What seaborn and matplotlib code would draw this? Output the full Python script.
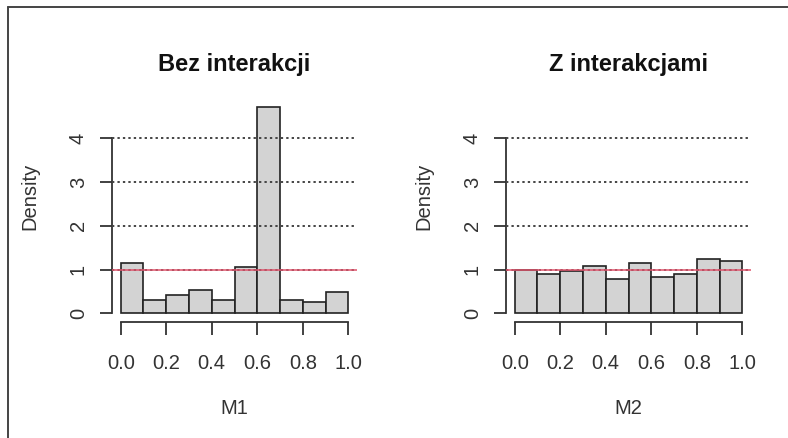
import matplotlib
matplotlib.use("Agg")
import matplotlib.pyplot as plt
from matplotlib.lines import Line2D
import seaborn as sns
import numpy as np
from matplotlib import font_manager

# ---- data ----
bin_edges = [0.0, 0.1, 0.2, 0.3, 0.4, 0.5, 0.6, 0.7, 0.8, 0.9, 1.0]
density_m1 = [1.16, 0.31, 0.42, 0.54, 0.31, 1.05, 4.72, 0.31, 0.25, 0.48]
density_m2 = [0.98, 0.89, 0.96, 1.07, 0.79, 1.15, 0.84, 0.90, 1.25, 1.19]
titles = ["Bez interakcji", "Z interakcjami"]
xlabels = ["M1", "M2"]
ylabel = "Density"
x_ticks = [0.0, 0.2, 0.4, 0.6, 0.8, 1.0]
x_ticklabels = ["0.0", "0.2", "0.4", "0.6", "0.8", "1.0"]
y_ticks = [0, 1, 2, 3, 4]
y_ticklabels = ["0", "1", "2", "3", "4"]
grid_levels = [1, 2, 3, 4]
reference_level = 1

sns.set_style("white")
names = {f.name for f in font_manager.fontManager.ttflist}
fam = "Liberation Sans" if "Liberation Sans" in names else "DejaVu Sans"
plt.rcParams["font.family"] = [fam, "DejaVu Sans"]

W, H = 788, 438
fig = plt.figure(figsize=(W / 100, H / 100), dpi=100)
fig.patch.set_facecolor("white")

axis_col = "#333333"
text_col = "#333333"

mids = [(a + b) / 2 for a, b in zip(bin_edges[:-1], bin_edges[1:])]
lefts_px = [111.6, 505.6]
ax_w_px = 245.8
ax_top_px, ax_bot_px = 85.8, 322.0

for i, dens in enumerate([density_m1, density_m2]):
    ax = fig.add_axes([lefts_px[i] / W, 1 - ax_bot_px / H, ax_w_px / W,
                       (ax_bot_px - ax_top_px) / H])
    ax.set_facecolor("none")
    sns.histplot(x=mids, weights=dens, bins=bin_edges, stat="count", ax=ax,
                 color="#D3D3D3", edgecolor="#222222", linewidth=1.2, alpha=1.0)
    ax.set_xlim(-0.04, 1.04)
    ax.set_ylim(-0.2, 5.2)
    for lv in grid_levels:
        ax.axhline(lv, color="#444444", linestyle=(0, (1.2, 1.6)), linewidth=1.4, zorder=3)
    ax.axhline(reference_level, color="#DF536B", linewidth=1.1, zorder=4)

    for s in ["top", "right"]:
        ax.spines[s].set_visible(False)
    ax.spines["bottom"].set_bounds(0, 1)
    ax.spines["left"].set_bounds(0, 4)
    for s in ["bottom", "left"]:
        ax.spines[s].set_color(axis_col)
        ax.spines[s].set_linewidth(1.3)

    ax.set_xticks(x_ticks)
    ax.set_xticklabels(x_ticklabels)
    ax.set_yticks(y_ticks)
    ax.set_yticklabels(y_ticklabels)
    ax.tick_params(axis="both", direction="out", length=9, width=1.3, color=axis_col,
                   labelsize=14.5, labelcolor=text_col, bottom=True, left=True)
    ax.tick_params(axis="x", pad=14)
    ax.tick_params(axis="y", pad=8, labelrotation=90)
    for lbl in ax.get_yticklabels():
        lbl.set_va("center")

    ax.set_xlabel(xlabels[i], fontsize=14.5, color=text_col)
    ax.xaxis.set_label_coords(0.5, (ax_bot_px - 409) / (ax_bot_px - ax_top_px))
    ax.xaxis.label.set_va("center")
    ax.set_ylabel(ylabel, fontsize=14.5, color=text_col)
    ax.yaxis.set_label_coords(-81.6 / ax_w_px, 0.53)
    ax.yaxis.label.set_va("center")
    ax.set_title(titles[i], fontsize=17, fontweight="bold", color="#111111", pad=11)

# frame of the cropped screenshot
fig.add_artist(Line2D([8 / W, 8 / W], [0, 1 - 7 / H], color="#444444", linewidth=1.4,
                      transform=fig.transFigure))
fig.add_artist(Line2D([8 / W, 1], [1 - 7 / H, 1 - 7 / H], color="#444444", linewidth=1.4,
                      transform=fig.transFigure))

fig.savefig("out.png", dpi=100)
